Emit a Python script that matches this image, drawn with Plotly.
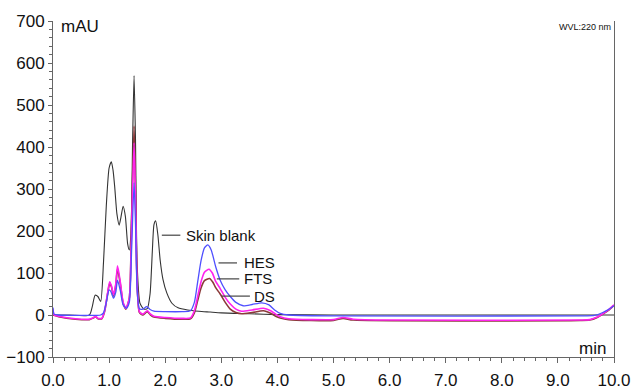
import plotly.graph_objects as go

# ---- data ----
blank_t = [0.0, 0.3, 0.65, 0.70, 0.75, 0.80, 0.85, 0.90, 0.95, 1.00, 1.04, 1.07, 1.10, 1.14, 1.18, 1.21, 1.25,
           1.29, 1.33, 1.36, 1.39, 1.42, 1.445, 1.47, 1.50, 1.55, 1.62, 1.68, 1.73, 1.77, 1.80, 1.83,
           1.87, 1.91, 1.96, 2.03, 2.12, 2.23, 2.4, 2.6, 2.8, 3.0, 3.5, 4.0, 5.0, 10.0]
blank_v = [0, 0, 0, 20, 47, 44, 32, 125, 260, 350, 365, 345, 305, 240, 214, 232, 259,
           235, 170, 155, 195, 420, 570, 420, 120, 28, 14, 15, 50, 150, 215, 224,
           190, 131, 85, 52, 28, 17, 12, 9, 7, 5, 3, 1, 0, 0]

hes_t = [0.0, 0.02, 0.1, 0.5, 0.85, 0.9, 0.95, 1.0, 1.03, 1.08, 1.12, 1.15, 1.2, 1.25, 1.31, 1.36,
         1.40, 1.445, 1.47, 1.50, 1.54, 1.6, 1.67, 1.73, 1.8, 2.0, 2.3, 2.45, 2.52, 2.58, 2.64, 2.70,
         2.76, 2.82, 2.9, 2.98, 3.07, 3.16, 3.26, 3.39, 3.55, 3.72, 3.85, 3.95, 4.05, 4.2, 5.0, 9.5,
         9.65, 9.8, 9.9, 10.0]
hes_v = [18, 2, 0, -1, 0, 5, 30, 60, 56, 40, 55, 83, 58, 24, 16, 30,
         150, 315, 220, 60, 15, 14, 20, 13, 9, 8, 8, 10, 30, 80, 130, 160,
         167, 155, 115, 83, 60, 44, 30, 22, 25, 29, 24, 12, 4, 0, -2, -2,
         -1, 6, 13, 22]

fts_t = [0.0, 0.02, 0.1, 0.4, 0.65, 0.72, 0.76, 0.8, 0.87, 0.92, 0.97, 1.01, 1.04, 1.08, 1.12, 1.15,
         1.2, 1.25, 1.3, 1.36, 1.40, 1.445, 1.47, 1.50, 1.54, 1.6, 1.68, 1.74, 1.8, 2.0, 2.3, 2.45,
         2.52, 2.58, 2.64, 2.70, 2.78, 2.84, 2.9, 2.98, 3.07, 3.16, 3.26, 3.36, 3.55, 3.75, 3.88,
         3.97, 4.05, 4.2, 4.6, 5.0, 5.17, 5.35, 6.0, 9.4, 9.57, 9.7, 9.8, 9.9, 10.0]
fts_v = [15, 0, -3, -9, -10, -6, -3, -8, -8, 10, 50, 79, 70, 48, 75, 117,
         78, 30, 16, 40, 200, 410, 280, 70, 8, 2, 10, 2, -3, -6, -8, -7,
         10, 45, 80, 102, 109, 100, 80, 63, 42, 26, 14, 9, 12, 16, 10,
         2, -4, -9, -11, -11, -6, -10, -12, -12, -11, -5, 3, 12, 24]

ds_t = [0.0, 0.1, 0.4, 0.65, 0.72, 0.76, 0.8, 0.87, 0.92, 0.97, 1.01, 1.04, 1.08, 1.12, 1.15,
        1.2, 1.25, 1.3, 1.36, 1.40, 1.445, 1.47, 1.50, 1.54, 1.6, 1.68, 1.74, 1.8, 2.0, 2.3, 2.45,
        2.52, 2.58, 2.64, 2.70, 2.79, 2.85, 2.9, 2.98, 3.07, 3.16, 3.26, 3.36, 3.55, 3.75, 3.88,
        3.97, 4.05, 4.2, 5.0, 5.17, 5.35, 9.4, 9.57, 9.7, 9.8, 9.9, 10.0]
ds_v = [0, -4, -10, -11, -7, -4, -9, -9, 8, 48, 75, 68, 45, 72, 110,
        74, 28, 14, 40, 220, 450, 300, 75, 6, 0, 8, 0, -5, -8, -10, -9,
        5, 35, 65, 82, 87, 78, 65, 50, 30, 14, 6, 3, 6, 10, 4,
        -3, -7, -11, -13, -8, -12, -13, -12, -6, 2, 11, 23]

x_ticks = [0, 1, 2, 3, 4, 5, 6, 7, 8, 9, 10]
y_ticks = [-100, 0, 100, 200, 300, 400, 500, 600, 700]

labels = ["Skin blank", "HES", "FTS", "DS"]
label_line_x = [(1.94, 2.27), (2.95, 3.28), (2.92, 3.32), (3.01, 3.51)]
label_y = [190, 124, 86, 45]
label_text_x = [2.34, 3.37, 3.37, 3.55]

fig = go.Figure()
traces = [
    (blank_t, blank_v, "#333333", 1.1, "Skin blank"),
    (ds_t, ds_v, "#8b3a3a", 1.6, "DS"),
    (fts_t, fts_v, "#ff22ee", 1.6, "FTS"),
    (hes_t, hes_v, "#4f4fff", 1.3, "HES"),
]
for t, v, c, w, n in traces:
    fig.add_trace(go.Scatter(x=t, y=v, mode="lines", name=n,
                             line=dict(color=c, width=w, shape="spline", smoothing=0.6),
                             showlegend=False, hoverinfo="skip"))

# label leader lines
for (x0, x1), y in zip(label_line_x, label_y):
    fig.add_shape(type="line", x0=x0, x1=x1, y0=y, y1=y, xref="x", yref="y",
                  line=dict(color="#444444", width=1.2))
for txt, x, y in zip(labels, label_text_x, label_y):
    fig.add_annotation(x=x, y=y, text=txt, showarrow=False, xanchor="left", yanchor="middle",
                       font=dict(size=15, color="#111111"), xref="x", yref="y")

fig.add_annotation(x=0.11, y=686, text="mAU", showarrow=False, xanchor="left", yanchor="middle",
                   font=dict(size=17, color="#111111"))
fig.add_annotation(x=9.9, y=-80, text="min", showarrow=False, xanchor="right", yanchor="middle",
                   font=dict(size=17, color="#111111"))
fig.add_annotation(x=9.98, y=686, text="WVL:220 nm", showarrow=False, xanchor="right", yanchor="middle",
                   font=dict(size=9, color="#111111"))

fig.update_layout(
    width=635, height=386,
    margin=dict(l=53, r=21, t=21, b=29, autoexpand=False),
    paper_bgcolor="white", plot_bgcolor="white",
    font=dict(family="Liberation Sans, Arial, sans-serif", color="#111111"),
    xaxis=dict(range=[0, 10], tickvals=x_ticks, tickformat=".1f", automargin=False,
               showgrid=False, zeroline=False, showline=True, linecolor="#666666", linewidth=1,
               ticks="outside", ticklen=5, tickcolor="#666666", tickfont=dict(size=17),
               ticklabelstandoff=3,
               minor=dict(dtick=0.2, ticks="outside", ticklen=3, tickcolor="#666666")),
    yaxis=dict(range=[-100, 700], tickvals=y_ticks, automargin=False,
               showgrid=False, zeroline=False, showline=True, mirror=True, linecolor="#666666", linewidth=1,
               ticks="outside", ticklen=4, tickcolor="#666666", tickfont=dict(size=17),
               ticklabelstandoff=0,
               minor=dict(dtick=20, ticks="outside", ticklen=3, tickcolor="#666666")),
)

fig.write_html("out.html")
